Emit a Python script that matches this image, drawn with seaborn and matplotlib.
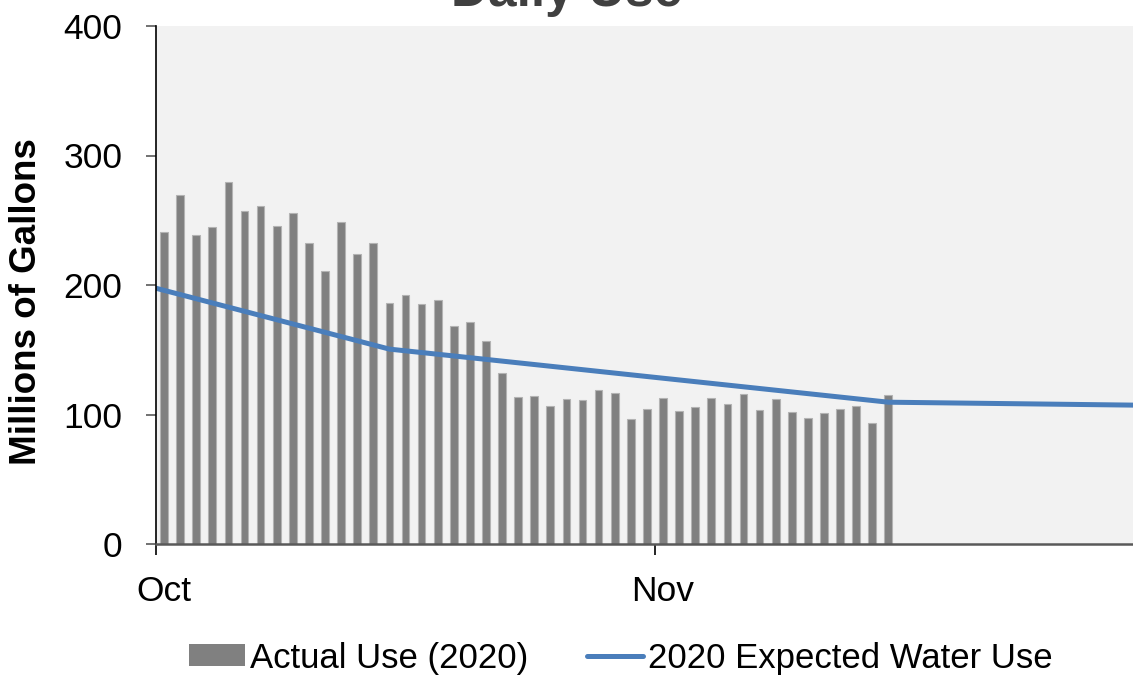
import pandas as pd
import matplotlib
matplotlib.use("Agg")
import matplotlib.pyplot as plt
import seaborn as sns
from matplotlib.patches import Patch
from matplotlib.lines import Line2D

sns.set_style("white")
plt.rcParams["font.family"] = ["Liberation Sans", "DejaVu Sans"]
plt.rcParams["text.color"] = "black"
plt.rcParams["xtick.labelcolor"] = "black"
plt.rcParams["ytick.labelcolor"] = "black"

# Daily water use, millions of gallons
actual_dates = pd.date_range("2020-10-01", periods=46, freq="D")
actual_use = [
    240.7, 269.5, 238.4, 244.8, 279.3, 257.1, 261.3, 245.6, 255.6, 232.4,
    210.6, 248.6, 223.9, 232.2, 186.1, 192.0, 185.1, 188.2, 168.1, 171.4,
    156.8, 132.0, 113.5, 114.0, 106.6, 112.0, 111.0, 118.9, 116.8, 96.8,
    104.2, 113.0, 102.9, 105.8, 112.7, 108.1, 116.1, 103.2, 111.7, 101.9,
    97.5, 100.9, 104.0, 106.3, 93.4, 114.8,
]

# Expected use curve (break points)
expected_dates = pd.to_datetime([
    "2020-10-01 00:00", "2020-10-15 12:00", "2020-11-15 12:00", "2020-12-01 00:00",
])
expected_use = [197.5, 150.5, 109.5, 107.2]

month_starts = pd.to_datetime(["2020-10-01", "2020-11-01"])
month_labels = ["Oct", "Nov"]
y_ticks = [0, 100, 200, 300, 400]

series_names = ["Actual Use (2020)", "2020 Expected Water Use"]
title = "Daily Use"
y_label = "Millions of Gallons"

origin = pd.Timestamp("2020-10-01")


def days_since(ts):
    return (pd.DatetimeIndex(ts) - origin) / pd.Timedelta(days=1)


bars = pd.DataFrame({"day": days_since(actual_dates) + 0.5, "use": actual_use})
expected = pd.DataFrame({"day": days_since(expected_dates), "use": expected_use})

bar_color = "#808080"
line_color = "#4a7ebb"

fig = plt.figure(figsize=(11.33, 6.77), dpi=100)
ax = fig.add_axes([156 / 1133, 133 / 677, 1 - 156 / 1133, 518 / 677])
ax.set_facecolor("#f2f2f2")

sns.barplot(data=bars, x="day", y="use", native_scale=True, width=0.48,
            color=bar_color, saturation=1, edgecolor="#b3b3b3", linewidth=0.8,
            errorbar=None, ax=ax)
sns.lineplot(data=expected, x="day", y="use", color=line_color,
             linewidth=3.6, ax=ax)

ax.set_xlim(0, 60.7)
ax.set_ylim(0, 400)
ax.set_yticks(y_ticks)
ax.set_yticklabels([str(v) for v in y_ticks])

# month boundaries carry the tick marks, month labels sit on the first day
ax.set_xticks(days_since(month_starts))
ax.set_xticklabels([])
ax.set_xticks(days_since(month_starts) + 0.5, minor=True)
ax.set_xticklabels(month_labels, minor=True)

ax.tick_params(axis="x", which="major", bottom=True, length=8, width=1.2,
               color="black", direction="out")
ax.tick_params(axis="x", which="minor", bottom=True, length=0, pad=22,
               labelsize=25.5, labelcolor="black")
ax.tick_params(axis="y", left=True, length=7.2, width=1.2, color="#595959",
               pad=17, labelsize=25.5, labelcolor="black", direction="out")

ax.set_xlabel("")
ax.set_ylabel("")
for side in ("top", "right"):
    ax.spines[side].set_visible(False)
ax.spines["left"].set_color("black")
ax.spines["left"].set_linewidth(1.2)
ax.spines["bottom"].set_color("#595959")
ax.spines["bottom"].set_linewidth(1.8)

fig.text(0.5, 1 - 6 / 677, title, ha="center", va="baseline",
         fontsize=37, fontweight="bold", color="#404040")
fig.text(27 / 1133, 1 - 301.5 / 677, y_label, rotation=90, ha="center",
         va="center", fontsize=26.5, fontweight="bold", color="black")

handles = [
    Patch(facecolor=bar_color, edgecolor="none"),
    Line2D([0], [0], color=line_color, linewidth=3.6),
]
leg = fig.legend(handles, series_names, loc="center",
                 bbox_to_anchor=(0.548, 0.028), ncol=2, frameon=False,
                 fontsize=25, handlelength=1.6, handleheight=0.6,
                 handletextpad=0.15, columnspacing=1.7, borderpad=0,
                 borderaxespad=0)
for txt in leg.get_texts():
    txt.set_color("black")

fig.savefig("out.png", dpi=100)
